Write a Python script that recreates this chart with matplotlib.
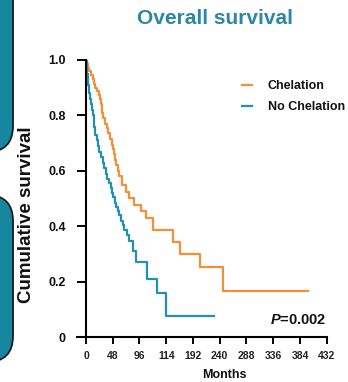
import matplotlib
matplotlib.use("Agg")
import matplotlib.pyplot as plt
from matplotlib.patches import FancyBboxPatch

plt.rcParams['font.family'] = ['Liberation Sans', 'DejaVu Sans']
plt.rcParams['mathtext.fontset'] = 'custom'
plt.rcParams['mathtext.rm'] = 'Liberation Sans:bold'
plt.rcParams['mathtext.bfit'] = 'Liberation Sans:italic:bold'

ORANGE = '#f0913a'
TEAL = '#2191b3'
PANEL = '#17879f'

# Kaplan-Meier steps: event times (months) and survival after each event
chel_times = [0, 2, 4, 6, 9, 12, 14, 17, 20, 23, 25, 27, 29, 31, 34, 37, 40, 43, 46, 48,
              50, 52, 54, 57, 60, 64, 72, 78, 87, 99, 108, 120, 157, 169, 204, 246]
chel_surv = [1.0, 0.985, 0.97, 0.96, 0.945, 0.93, 0.915, 0.90, 0.89, 0.875, 0.86, 0.84,
             0.81, 0.79, 0.77, 0.755, 0.735, 0.715, 0.695, 0.68, 0.66, 0.64, 0.62, 0.60,
             0.58, 0.551, 0.525, 0.503, 0.478, 0.454, 0.43, 0.388, 0.342, 0.301, 0.253, 0.167]
chel_end = 398

nochel_times = [0, 1, 2, 3, 4, 5, 7, 9, 11, 12, 14, 15, 17, 19, 21, 24, 27, 30, 33, 36,
                38, 41, 44, 46, 49, 52, 54, 57, 60, 63, 66, 69, 74, 78, 84, 90, 110, 128, 144]
nochel_surv = [1.0, 0.975, 0.95, 0.93, 0.91, 0.88, 0.86, 0.84, 0.82, 0.80, 0.78, 0.76,
               0.73, 0.71, 0.69, 0.67, 0.65, 0.63, 0.61, 0.59, 0.57, 0.555, 0.54, 0.52,
               0.505, 0.485, 0.47, 0.455, 0.44, 0.42, 0.405, 0.388, 0.37, 0.346, 0.31,
               0.27, 0.21, 0.161, 0.077]
nochel_end = 230

x_ticks = [0, 48, 96, 144, 192, 240, 288, 336, 384, 432]
x_labels = ['0', '48', '96', '114', '192', '240', '288', '336', '384', '432']
y_ticks = [0, 0.2, 0.4, 0.6, 0.8, 1.0]
y_labels = ['0', '0.2', '0.4', '0.6', '0.8', '1.0']

W, H = 348, 382
fig = plt.figure(figsize=(W / 100, H / 100), dpi=100)

# rounded panels on the left edge
for y0, y1 in [(-30, 152), (195, 362)]:
    p = FancyBboxPatch((-40 / W, 1 - y1 / H), 53 / W, (y1 - y0) / H,
                       boxstyle='round,pad=0,rounding_size=0.075',
                       transform=fig.transFigure, facecolor=PANEL,
                       edgecolor='#1b1b1b', linewidth=1.3, mutation_aspect=W / H)
    fig.patches.append(p)

ax = fig.add_axes([86 / W, 1 - 337.3 / H, 240.7 / W, 277.3 / H])

ax.step(chel_times + [chel_end], chel_surv + [chel_surv[-1]], where='post',
        color=ORANGE, lw=1.6, label='Chelation')
ax.step(nochel_times + [nochel_end], nochel_surv + [nochel_surv[-1]], where='post',
        color=TEAL, lw=1.6, label='No Chelation')

ax.set_xlim(0, 432)
ax.set_ylim(0, 1.0)
ax.set_xticks(x_ticks)
ax.set_xticklabels(x_labels, fontsize=7.5, fontweight='bold', color='#222222')
ax.set_yticks(y_ticks)
ax.set_yticklabels(y_labels, fontsize=9, fontweight='bold', color='#111111')
ax.tick_params(axis='y', length=6.5, width=1.4, pad=8)
ax.tick_params(axis='x', length=5, width=1.4, pad=5)
for s in ['top', 'right']:
    ax.spines[s].set_visible(False)
for s in ['left', 'bottom']:
    ax.spines[s].set_linewidth(1.5)
ax.spines['bottom'].set_bounds(-16, 432)

xl = ax.set_xlabel('Months', fontsize=9, fontweight='bold', color='#111111')
xl.set_va('center')
ax.xaxis.set_label_coords((224 - 86) / 240.7, -(375 - 337.3) / 277.3)
yl = ax.set_ylabel('Cumulative survival', fontsize=13.5, fontweight='bold', color='#111111')
yl.set_va('center')
ax.yaxis.set_label_coords(-(86 - 27) / 240.7, (337.3 - 215) / 277.3)

ax.text(1.0, (337.3 - 320) / 277.3, r'$\mathbfit{P}$=0.002', transform=ax.transAxes,
        ha='right', va='center', fontsize=10.5, fontweight='bold', color='#111111')

leg = ax.legend(loc='upper left', bbox_to_anchor=((241.7 - 86) / 240.7, (337.3 - 80) / 277.3),
                frameon=False, fontsize=9, handlelength=0.8, handletextpad=1.3,
                borderpad=0, borderaxespad=0, labelspacing=0.75)
for t in leg.get_texts():
    t.set_fontweight('bold')
    t.set_color('#111111')

fig.text(215 / W, 1 - 19 / H, 'Overall survival', ha='center', va='center',
         fontsize=15, fontweight='bold', color='#2a87a8')

fig.savefig('out.png', dpi=100)
